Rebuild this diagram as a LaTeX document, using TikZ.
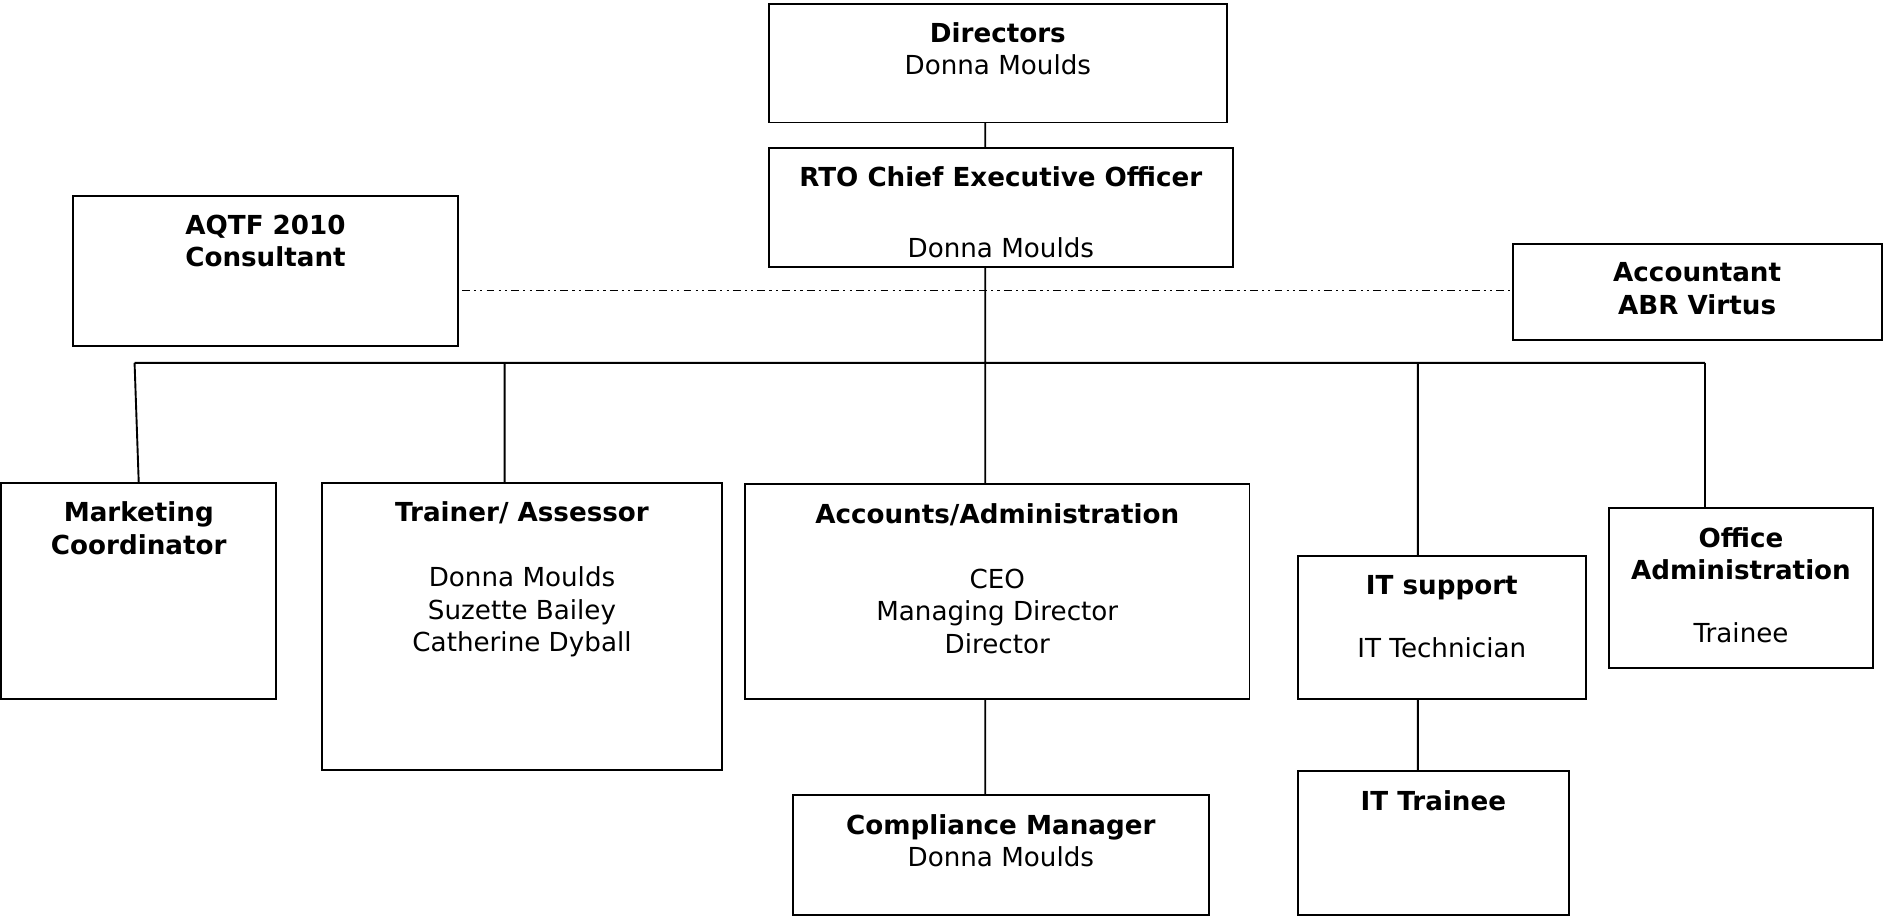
\documentclass[tikz,border=0pt]{standalone}
\usepackage{fontspec}
\setmainfont{DejaVu Sans}
\usetikzlibrary{positioning}

\begin{document}
\begin{tikzpicture}[x=0.02cm,y=-0.02cm,line width=0.9pt,
    box/.style={draw,rectangle,anchor=north west,inner sep=0pt,outer sep=0pt},
    txt/.style={align=center,inner sep=0pt,font=\fontsize{12.4}{15.4}\selectfont},
    dashdotdot/.style={line width=0.5pt,dash pattern=on 0.13cm off 0.07cm on 0.035cm off 0.07cm on 0.035cm off 0.07cm}]

\useasboundingbox (0,0) rectangle (1568,763);

% boxes
\node [box,minimum width=7.62cm,minimum height=1.98cm] (dir) at (640,3) {};
\node [box,minimum width=7.72cm,minimum height=1.98cm] (ceo) at (640,123) {};
\node [box,minimum width=6.4cm,minimum height=2.5cm] (aqtf) at (61,163) {};
\node [box,minimum width=6.14cm,minimum height=1.6cm] (acct) at (1259,203) {};
\node [box,minimum width=4.58cm,minimum height=3.6cm] (mkt) at (1,402) {};
\node [box,minimum width=6.66cm,minimum height=4.78cm] (trn) at (268,402) {};
\node [box,minimum width=8.4cm,minimum height=3.58cm] (adm) at (620,403) {};
\node [box,minimum width=4.8cm,minimum height=2.38cm] (its) at (1080,463) {};
\node [box,minimum width=4.4cm,minimum height=2.66cm] (off) at (1339,423) {};
\node [box,minimum width=6.92cm,minimum height=1.99cm] (cmp) at (660,662) {};
\node [box,minimum width=4.52cm,minimum height=2.39cm] (itt) at (1080,642) {};

% texts
\node [txt,below=0.3cm of dir.north] (dirt) {\textbf{Directors}\\Donna Moulds};
\node [txt,below=0.3cm of ceo.north] (ceot) {\textbf{RTO Chief Executive Officer}\\[18pt]Donna Moulds};
\node [txt,below=0.3cm of aqtf.north] (aqtft) {\textbf{AQTF 2010}\\\textbf{Consultant}};
\node [txt,below=0.3cm of acct.north] (acctt) {\textbf{Accountant}\\\textbf{ABR Virtus}};
\node [txt,below=0.3cm of mkt.north] (mktt) {\textbf{Marketing}\\\textbf{Coordinator}};
\node [txt,below=0.3cm of trn.north] (trnt) {\textbf{Trainer/ Assessor}\\[15.4pt]Donna Moulds\\Suzette Bailey\\Catherine Dyball};
\node [txt,below=0.3cm of adm.north] (admt) {\textbf{Accounts/Administration}\\[15.4pt]CEO\\Managing Director\\Director};
\node [txt,below=0.3cm of its.north] (itst) {\textbf{IT support}\\[14.4pt]IT Technician};
\node [txt,below=0.3cm of off.north] (offt) {\textbf{Office}\\\textbf{Administration}\\[14.4pt]Trainee};
\node [txt,below=0.3cm of cmp.north] (cmpt) {\textbf{Compliance Manager}\\Donna Moulds};
\node [txt,below=0.3cm of itt.north] (ittt) {\textbf{IT Trainee}};

% bus points
\coordinate (spine) at (820,302);
\coordinate (busl) at (112,302);
\coordinate (busr) at (1419,302);
\coordinate (trbus) at (420,302);
\coordinate (itbus) at (1180,302);
\coordinate (adv) at (820,242);

\path [draw]
    (spine |- dir.south) -- (spine |- ceo.north)
    (spine |- ceo.south) -- (spine |- adm.north)
    (busl) -- (busr)
    (busl) -- (mkt.north)
    (trbus) -- (trbus |- trn.north)
    (itbus) -- (itbus |- its.north)
    (busr) -- (busr |- off.north)
    (spine |- adm.south) -- (spine |- cmp.north)
    (itbus |- its.south) -- (itbus |- itt.north)
;

\draw [dashdotdot,shorten <=2pt] (aqtf.east |- adv) -- (acct.west |- adv);

\end{tikzpicture}
\end{document}
